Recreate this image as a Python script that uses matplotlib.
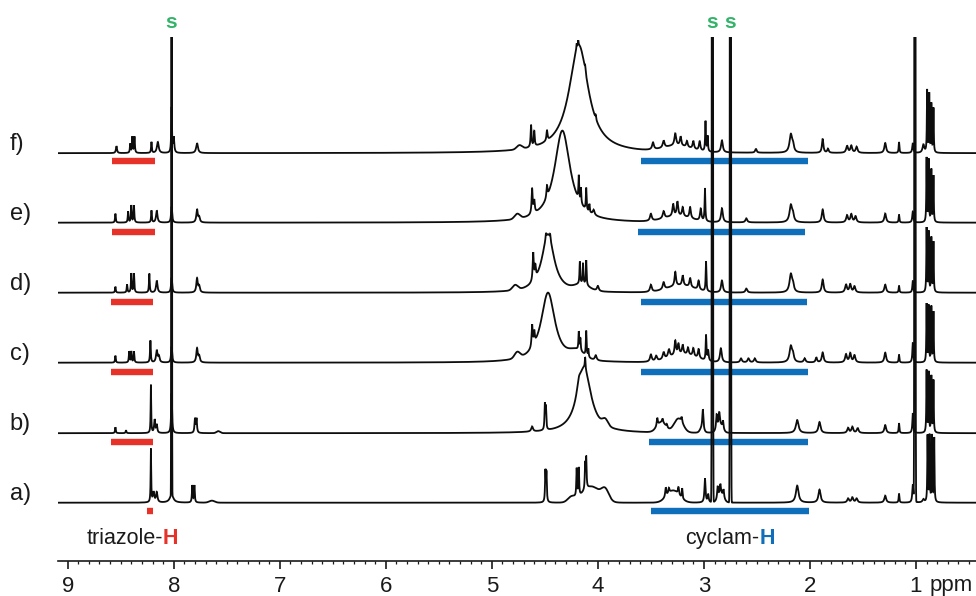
import numpy as np
import matplotlib
matplotlib.use("Agg")
import matplotlib.pyplot as plt

plt.rcParams['font.family'] = ['Liberation Sans', 'DejaVu Sans']

# ---------------- data ----------------
labels = ["a)", "b)", "c)", "d)", "e)", "f)"]
offsets = [58, 127.5, 198, 268, 338, 407.5]   # vertical stacking of traces

# peak lists: position (ppm), height, half width (ppm), gaussian fraction
a_pos = [8.215, 8.19, 8.16, 8.02, 8.02, 7.825, 7.805, 7.64,
         4.495, 4.485, 4.20, 4.18, 4.12, 4.11, 4.06, 3.93, 4.25,
         3.29, 3.36, 3.33, 3.24, 3.205, 2.99, 2.96, 2.92, 2.87, 2.845, 2.815, 2.84, 2.75,
         2.12, 1.91, 1.64, 1.60, 1.56, 1.29, 1.16, 1.03, 1.01, 0.93,
         0.891, 0.872, 0.849, 0.828]
a_h = [53, 10, 10, 3000, 8, 17, 17, 2,
       30, 28, 28, 28, 25, 30, 16, 10, 5,
       12, 9, 5, 7, 10, 24, 8, 3000, 12, 10, 8, 8, 3000,
       17, 13, 4, 5, 4, 7, 9, 18, 3000, 3,
       66, 66, 66, 64]
a_w = [0.003, 0.008, 0.008, 0.0025, 0.02, 0.004, 0.004, 0.03,
       0.004, 0.004, 0.004, 0.004, 0.004, 0.004, 0.1, 0.04, 0.04,
       0.07, 0.006, 0.006, 0.006, 0.004, 0.006, 0.006, 0.0038, 0.006, 0.006, 0.006, 0.03, 0.0038,
       0.015, 0.012, 0.01, 0.01, 0.01, 0.01, 0.004, 0.006, 0.0038, 0.01,
       0.003, 0.003, 0.003, 0.003]
a_g = [0, 0, 0, 1, 0, 0, 0, 1,
       0, 0, 0, 0, 0, 0, 1, 1, 1,
       1, 0, 0, 0, 0, 0, 0, 1, 0, 0, 0, 1, 1,
       0, 0, 0, 0, 0, 0, 0, 0, 1, 0,
       0, 0, 0, 0]

b_pos = [8.55, 8.45, 8.215, 8.18, 8.16, 8.02, 7.80, 7.785, 7.58,
         4.62, 4.50, 4.49, 4.13, 4.18, 4.12, 3.93,
         3.40, 3.24, 3.44, 3.39, 3.35, 3.21, 3.01, 3.02, 2.88, 2.855, 2.82, 2.85,
         2.12, 1.91, 1.64, 1.60, 1.55, 1.29, 1.16, 1.03,
         0.90, 0.88, 0.855, 0.835]
b_h = [6, 3, 48, 13, 8, 40, 14, 14, 2,
       5, 25, 22, 64, 10, 12, 6,
       10, 14, 8, 4, 3, 5, 20, 4, 14, 12, 8, 8,
       13, 11, 5, 6, 5, 8, 10, 20,
       62, 60, 56, 52]
b_w = [0.004, 0.004, 0.003, 0.006, 0.006, 0.005, 0.005, 0.005, 0.02,
       0.01, 0.004, 0.004, 0.08, 0.02, 0.004, 0.03,
       0.05, 0.05, 0.006, 0.006, 0.006, 0.006, 0.006, 0.02, 0.006, 0.006, 0.006, 0.03,
       0.015, 0.012, 0.01, 0.01, 0.01, 0.01, 0.004, 0.005,
       0.003, 0.003, 0.003, 0.003]
b_g = [0, 0, 0, 0, 0, 0, 0, 0, 1,
       0, 0, 0, 0, 0, 0, 1,
       1, 1, 0, 0, 0, 0, 0, 1, 0, 0, 0, 1,
       0, 0, 0, 0, 0, 0, 0, 0,
       0, 0, 0, 0]

c_pos = [8.55, 8.42, 8.40, 8.375, 8.22, 8.16, 8.14, 8.02, 7.78, 7.76,
         4.76, 4.62, 4.60, 4.47, 4.20, 4.18, 4.165, 4.11, 4.09, 4.02,
         3.50, 3.45, 3.38, 3.33, 3.27, 3.24, 3.20, 3.15, 3.10, 3.05, 3.20,
         2.98, 2.96, 2.84, 2.65, 2.58, 2.52, 2.18, 2.16, 2.05, 1.94, 1.88,
         1.66, 1.62, 1.58, 1.29, 1.16, 1.03,
         0.90, 0.88, 0.855, 0.835]
c_h = [7, 11, 11, 11, 22, 12, 6, 16, 14, 6,
       6, 22, 12, 70, 8, 18, 12, 25, 8, 5,
       7, 5, 7, 8, 14, 10, 9, 7, 8, 9, 8,
       25, 10, 14, 4, 4, 4, 16, 6, 4, 5, 10,
       8, 9, 7, 10, 8, 20,
       58, 56, 55, 50]
c_w = [0.004, 0.004, 0.004, 0.004, 0.004, 0.008, 0.008, 0.006, 0.008, 0.008,
       0.03, 0.006, 0.006, 0.08, 0.08, 0.004, 0.004, 0.004, 0.004, 0.01,
       0.01, 0.01, 0.01, 0.01, 0.008, 0.008, 0.008, 0.008, 0.008, 0.008, 0.15,
       0.004, 0.006, 0.01, 0.01, 0.01, 0.01, 0.015, 0.01, 0.01, 0.008, 0.01,
       0.01, 0.01, 0.01, 0.01, 0.004, 0.005,
       0.003, 0.003, 0.003, 0.003]
c_g = [0, 0, 0, 0, 0, 0, 0, 0, 0, 0,
       1, 0, 0, 0, 1, 0, 0, 0, 0, 0,
       0, 0, 0, 0, 0, 0, 0, 0, 0, 0, 1,
       0, 0, 0, 0, 0, 0, 0, 0, 0, 0, 0,
       0, 0, 0, 0, 0, 0,
       0, 0, 0, 0]

d_pos = [8.55, 8.44, 8.40, 8.375, 8.23, 8.16, 8.02, 7.78, 7.76,
         4.78, 4.61, 4.59, 4.47, 4.49, 4.45, 4.17, 4.14, 4.11, 4.15, 4.00,
         3.50, 3.38, 3.27, 3.20, 3.13, 3.05, 3.22,
         2.98, 2.83, 2.60, 2.18, 2.16, 1.88, 1.66, 1.62, 1.58, 1.29, 1.16, 1.03,
         0.90, 0.88, 0.855, 0.835]
d_h = [6, 8, 19, 19, 19, 12, 15, 14, 6,
       5, 28, 12, 58, 6, 5, 22, 20, 25, 6, 5,
       7, 7, 14, 10, 9, 9, 7,
       30, 12, 4, 18, 6, 13, 8, 8, 6, 8, 7, 12,
       64, 60, 54, 50]
d_w = [0.004, 0.004, 0.004, 0.004, 0.004, 0.008, 0.006, 0.008, 0.008,
       0.03, 0.006, 0.006, 0.07, 0.004, 0.004, 0.004, 0.004, 0.004, 0.08, 0.01,
       0.01, 0.01, 0.008, 0.008, 0.008, 0.008, 0.15,
       0.004, 0.01, 0.01, 0.015, 0.01, 0.01, 0.01, 0.01, 0.01, 0.01, 0.004, 0.005,
       0.003, 0.003, 0.003, 0.003]
d_g = [0, 0, 0, 0, 0, 0, 0, 0, 0,
       1, 0, 0, 0, 0, 0, 0, 0, 0, 1, 0,
       0, 0, 0, 0, 0, 0, 1,
       0, 0, 0, 0, 0, 0, 0, 0, 0, 0, 0, 0,
       0, 0, 0, 0]

e_pos = [8.55, 8.43, 8.40, 8.375, 8.21, 8.16, 8.02, 7.78, 7.76,
         4.76, 4.62, 4.60, 4.48, 4.335, 4.18, 4.16, 4.11, 4.08, 4.04,
         3.50, 3.38, 3.29, 3.25, 3.20, 3.13, 3.03, 3.25,
         2.99, 2.83, 2.60, 2.18, 2.16, 1.88, 1.65, 1.61, 1.57, 1.29, 1.16, 1.03,
         0.90, 0.88, 0.855, 0.835]
e_h = [9, 11, 17, 17, 12, 12, 16, 13, 5,
       5, 25, 12, 12, 92, 24, 15, 22, 8, 5,
       7, 7, 12, 14, 9, 11, 12, 6,
       33, 14, 4, 17, 6, 13, 7, 8, 6, 9, 8, 11,
       64, 62, 52, 46]
e_w = [0.004, 0.004, 0.004, 0.004, 0.004, 0.008, 0.006, 0.008, 0.008,
       0.03, 0.006, 0.006, 0.006, 0.09, 0.004, 0.004, 0.004, 0.004, 0.01,
       0.01, 0.01, 0.008, 0.008, 0.008, 0.008, 0.008, 0.15,
       0.004, 0.01, 0.01, 0.015, 0.01, 0.01, 0.01, 0.01, 0.01, 0.01, 0.004, 0.006,
       0.003, 0.003, 0.003, 0.003]
e_g = [0, 0, 0, 0, 0, 0, 0, 0, 0,
       1, 0, 0, 0, 0, 0, 0, 0, 0, 0,
       0, 0, 0, 0, 0, 0, 0, 1,
       0, 0, 0, 0, 0, 0, 0, 0, 0, 0, 0, 0,
       0, 0, 0, 0]

f_pos = [8.54, 8.41, 8.39, 8.37, 8.21, 8.15, 8.02, 8.00, 7.78,
         4.74, 4.63, 4.60, 4.48, 4.18, 4.20, 4.185, 4.12, 4.02,
         3.48, 3.38, 3.27, 3.22, 3.16, 3.10, 3.04, 3.25,
         2.985, 2.965, 2.83, 2.51, 2.18, 2.16, 1.88, 1.83, 1.65, 1.61, 1.56,
         1.29, 1.16, 1.03, 0.93,
         0.895, 0.875, 0.855, 0.835]
f_h = [7, 9, 16, 16, 11, 11, 45, 15, 10,
       4, 22, 15, 10, 108, 5, 5, 5, 4,
       7, 7, 12, 9, 6, 8, 9, 6,
       30, 15, 12, 4, 18, 6, 14, 4, 7, 7, 6,
       10, 11, 10, 8,
       62, 58, 48, 44]
f_w = [0.006, 0.004, 0.004, 0.004, 0.004, 0.01, 0.004, 0.006, 0.01,
       0.03, 0.005, 0.005, 0.006, 0.11, 0.003, 0.003, 0.004, 0.004,
       0.01, 0.01, 0.01, 0.008, 0.008, 0.008, 0.008, 0.15,
       0.004, 0.004, 0.01, 0.008, 0.015, 0.01, 0.008, 0.008, 0.01, 0.01, 0.01,
       0.01, 0.004, 0.006, 0.01,
       0.003, 0.003, 0.003, 0.003]
f_g = [0, 0, 0, 0, 0, 0, 0, 0, 0,
       1, 0, 0, 0, 0, 0, 0, 0, 0,
       0, 0, 0, 0, 0, 0, 0, 1,
       0, 0, 0, 0, 0, 0, 0, 0, 0, 0, 0,
       0, 0, 0, 0,
       0, 0, 0, 0]

# assignment bars (ppm ranges)
red_start = [8.25, 8.59, 8.59, 8.59, 8.58, 8.58]
red_end = [8.195, 8.195, 8.195, 8.195, 8.18, 8.18]
blue_start = [3.495, 3.52, 3.59, 3.59, 3.62, 3.59]
blue_end = [2.005, 2.02, 2.02, 2.03, 2.045, 2.02]
bar_drop = [7.8, 8.3, 9.3, 9.3, 9.3, 7.8]

solvent_ppm = [8.02, 2.92, 2.75]
tick_values = [9, 8, 7, 6, 5, 4, 3, 2, 1]

# ---------------- drawing ----------------
XL, XR = 9.096, 0.434
TOP = 523.7

fig = plt.figure(figsize=(9.76, 5.96), dpi=100)
ax = fig.add_axes([57.5 / 976, 35.3 / 596, 1 - 57.5 / 976, TOP / 596])
ax.set_xlim(XL, XR)
ax.set_ylim(0, TOP)

x = np.linspace(XL, XR, 20000)


def trace(pos, h, w, g):
    y = np.zeros_like(x)
    for p, hh, ww, gg in zip(pos, h, w, g):
        d = (x - p) / ww
        y += hh * ((1 - gg) / (1 + d * d) + gg * np.exp(-np.log(2) * d * d))
    return y


spectra = [(a_pos, a_h, a_w, a_g), (b_pos, b_h, b_w, b_g), (c_pos, c_h, c_w, c_g),
           (d_pos, d_h, d_w, d_g), (e_pos, e_h, e_w, e_g), (f_pos, f_h, f_w, f_g)]

RED = '#e63228'
BLUE = '#0f6fba'
GREEN = '#34b36a'
INK = '#1a1a1a'

for i in range(5, -1, -1):
    off = offsets[i]
    y = trace(*spectra[i]) + off
    ax.plot(x, y, color='#0d0d0d', lw=1.3, solid_joinstyle='miter')
    ax.text(9.545, off + 9, labels[i], fontsize=17, ha='left', va='center',
            color=INK, clip_on=False)
    yb = off - bar_drop[i]
    ax.plot([red_start[i], red_end[i]], [yb, yb], color=RED, lw=4.6,
            solid_capstyle='butt')
    ax.plot([blue_start[i], blue_end[i]], [yb, yb], color=BLUE, lw=4.6,
            solid_capstyle='butt')

for s in solvent_ppm:
    ax.text(s, TOP + 15, 's', color=GREEN, fontsize=15, fontweight='bold',
            ha='center', va='center', clip_on=False)

# group labels
ax.text(8.101, 16.7, 'triazole-', fontsize=15.5, color=INK, ha='right', va='baseline')
ax.text(8.101, 16.7, 'H', fontsize=15.5, color=RED, fontweight='bold', ha='left', va='baseline')
ax.text(2.478, 16.7, 'cyclam-', fontsize=15.5, color=INK, ha='right', va='baseline')
ax.text(2.478, 16.7, 'H', fontsize=15.5, color=BLUE, fontweight='bold', ha='left', va='baseline')

# axis
for sp in ['left', 'right', 'top']:
    ax.spines[sp].set_visible(False)
ax.spines['bottom'].set_linewidth(1.2)
ax.spines['bottom'].set_color(INK)
ax.set_yticks([])
ax.set_xticks(tick_values)
ax.set_xticklabels([str(t) for t in tick_values])
ax.set_xticks(np.arange(0.5, 9.1, 0.1), minor=True)
ax.tick_params(axis='x', which='major', direction='out', length=6, width=1.2,
               labelsize=16, pad=5, colors=INK)
ax.tick_params(axis='x', which='minor', direction='out', length=2.5, width=0.9,
               colors=INK)
ax.text(0.87, -24.3, 'ppm', fontsize=16, color=INK, ha='left', va='center')

fig.savefig('out.png', dpi=100)
